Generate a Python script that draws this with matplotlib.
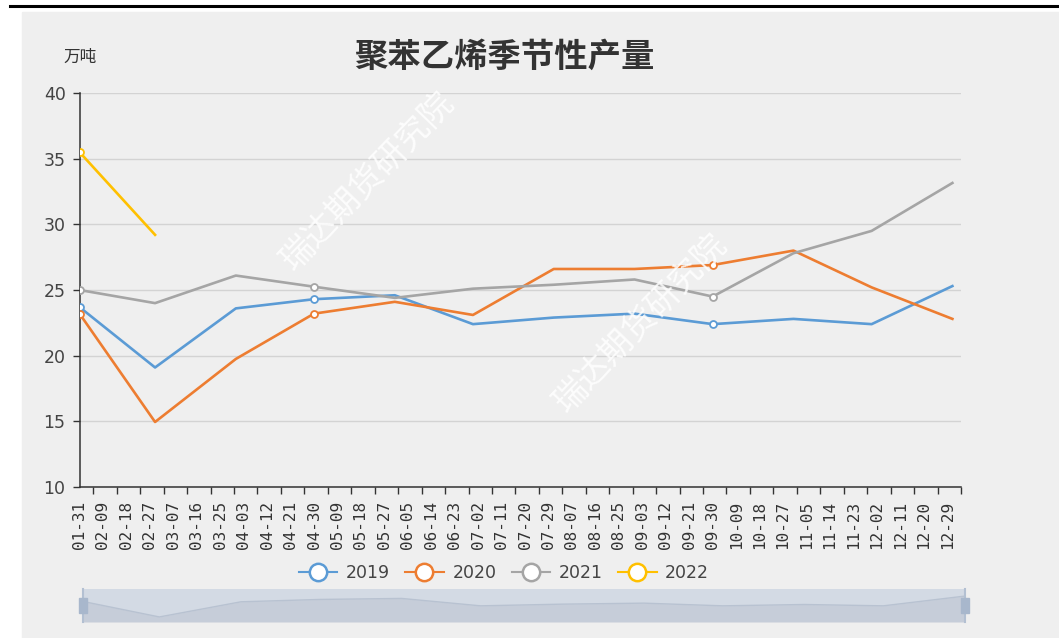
import pandas as pd
import matplotlib
matplotlib.use("Agg")
import matplotlib.pyplot as plt
from matplotlib.lines import Line2D
from matplotlib.patches import Rectangle

plt.rcParams["font.family"] = ["DejaVu Sans", "Noto Sans CJK SC"]

# month-end dates for each point (MM-DD)
months = ["01-31", "02-29", "03-31", "04-30", "05-31", "06-30",
          "07-31", "08-31", "09-30", "10-31", "11-30", "12-31"]

# axis labels shown every 9 days
tick_labels = ["01-31", "02-09", "02-18", "02-27", "03-07", "03-16", "03-25",
               "04-03", "04-12", "04-21", "04-30", "05-09", "05-18", "05-27",
               "06-05", "06-14", "06-23", "07-02", "07-11", "07-20", "07-29",
               "08-07", "08-16", "08-25", "09-03", "09-12", "09-21", "09-30",
               "10-09", "10-18", "10-27", "11-05", "11-14", "11-23", "12-02",
               "12-11", "12-20", "12-29"]

# 产量 (万吨)
s2019 = [23.7, 19.1, 23.6, 24.3, 24.6, 22.4, 22.9, 23.2, 22.4, 22.8, 22.4, 25.3]
s2020 = [23.2, 14.95, 19.75, 23.2, 24.1, 23.1, 26.6, 26.6, 26.9, 28.0, 25.2, 22.8]
s2021 = [25.0, 24.0, 26.1, 25.25, 24.4, 25.1, 25.4, 25.8, 24.5, 27.8, 29.5, 33.15]
s2022 = [35.5, 29.2]

series = [("2019", s2019, "#5b9bd5"),
          ("2020", s2020, "#ed7d31"),
          ("2021", s2021, "#a5a5a5"),
          ("2022", s2022, "#ffc000")]


def day_pos(md_list):
    """days since 01-31 (leap year calendar, as on the chart axis)"""
    d = pd.to_datetime(["2020-" + m for m in md_list])
    return (d - pd.Timestamp("2020-01-31")).days.to_numpy()


W, H = 1059, 638
fig = plt.figure(figsize=(W / 100, H / 100), dpi=100)
fig.patch.set_facecolor("white")

# gray panel + black rule on top
fig.patches.append(Rectangle((22 / W, 0), 1 - 22 / W, (H - 12) / H,
                             transform=fig.transFigure, color="#efefef", zorder=-10))
fig.add_artist(Line2D([10 / W, 1], [1 - 6 / H, 1 - 6 / H], color="black", lw=2.2))

ax = fig.add_axes([79.5 / W, (H - 487) / H, (961 - 79.5) / W, 394 / H])
ax.set_facecolor("none")

for name, vals, color in series:
    x = day_pos(months[:len(vals)])
    marks = [i for i in (0, 3, 8) if i < len(vals)]
    ax.plot(x, vals, color=color, lw=1.9, marker="o", markevery=marks,
            ms=5, mfc="white", mec=color, mew=1.3, zorder=3)

ax.set_xlim(0, 336.4)
ax.set_ylim(10, 40)
ax.set_yticks(range(10, 41, 5))
ax.yaxis.grid(True, color="#d3d3d3", lw=1)
ax.set_axisbelow(True)

tick_x = day_pos(tick_labels)
ax.set_xticks(tick_x)
ax.set_xticklabels(tick_labels, rotation=90, family="DejaVu Sans Mono",
                   fontsize=11.5, color="#333333")
ax.set_xticks(tick_x + 5.3, minor=True)
ax.tick_params(axis="x", which="major", length=0, pad=10)
ax.tick_params(axis="x", which="minor", length=5, width=1, color="#333333")
ax.tick_params(axis="y", length=5, width=1, color="#333333", labelsize=12.5,
               labelcolor="#444444", pad=5)

for side in ("top", "right"):
    ax.spines[side].set_visible(False)
for side in ("left", "bottom"):
    ax.spines[side].set_color("#333333")
    ax.spines[side].set_linewidth(1.1)

fig.text(504 / W, 1 - 57 / H, "聚苯乙烯季节性产量", ha="center", va="center",
         fontsize=24, fontweight="bold", color="#333333", family="Noto Sans CJK SC")
fig.text(80 / W, 1 - 57 / H, "万吨", ha="center", va="center",
         fontsize=12, color="#333333", family="Noto Sans CJK SC")

# watermarks
for cx, cy in [(368, 181), (641, 323)]:
    fig.text(cx / W, 1 - cy / H, "瑞达期货研究院", rotation=46, ha="center",
             va="center", fontsize=24, color="white", alpha=0.85,
             family="Noto Sans CJK SC", zorder=10)

# legend
handles = [Line2D([], [], color=c, lw=1.5, marker="o", ms=12.5, mfc="white",
                  mec=c, mew=1.8) for _, _, c in series]
fig.legend(handles, [n for n, _, _ in series], loc="center",
           bbox_to_anchor=(504 / W, 1 - 573 / H), ncol=4, frameon=False,
           fontsize=12.5, handlelength=2.2, handletextpad=0.5,
           columnspacing=0.9, labelcolor="#444444")

# data zoom slider
sax = fig.add_axes([83 / W, (H - 622) / H, 882 / W, 33 / H])
sax.set_facecolor("#d3dae4")
xs = day_pos(months)
sax.fill_between(xs, s2019, 17.6, color="#c6cdd9", lw=0)
sax.plot(xs, s2019, color="#b8c2d1", lw=1)
sax.set_xlim(0, 335)
sax.set_ylim(17.6, 27.4)
sax.set_xticks([])
sax.set_yticks([])
for side in ("top", "bottom"):
    sax.spines[side].set_visible(False)
for side in ("left", "right"):
    sax.spines[side].set_color("#b3c0d2")
    sax.spines[side].set_linewidth(1.5)
for hx in (0, 1):
    sax.add_patch(Rectangle((hx - 0.004, 0.28), 0.008, 0.45, transform=sax.transAxes,
                            clip_on=False, color="#a8b7cc", zorder=5))

fig.savefig("out.png", dpi=100)
